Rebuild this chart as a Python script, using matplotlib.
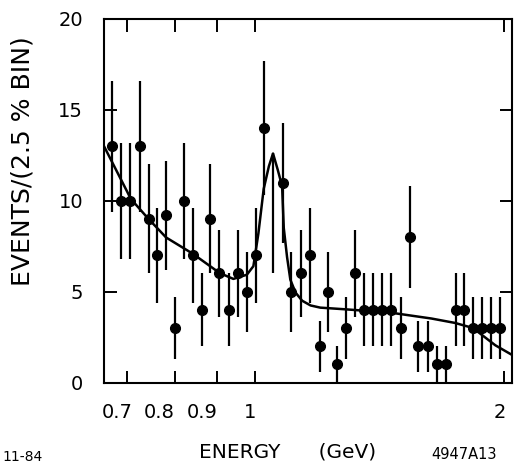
import matplotlib

matplotlib.use("Agg")
import matplotlib.pyplot as plt
from matplotlib.ticker import NullLocator
from matplotlib.transforms import ScaledTranslation

# --- measured spectrum (2.5 % bins) ---
energy = [0.672, 0.689, 0.707, 0.726, 0.744, 0.762, 0.781, 0.800, 0.821, 0.841,
          0.864, 0.883, 0.906, 0.931, 0.954, 0.978, 1.003, 1.027, 1.082, 1.107,
          1.136, 1.167, 1.198, 1.226, 1.257, 1.290, 1.321, 1.355, 1.391, 1.427,
          1.462, 1.502, 1.539, 1.577, 1.619, 1.659, 1.702, 1.750, 1.790, 1.836,
          1.881, 1.931, 1.980]
events = [13, 10, 10, 13, 9, 7, 9.2, 3, 10, 7,
          4, 9, 6, 4, 6, 5, 7, 14, 11, 5,
          6, 7, 2, 5, 1, 3, 6, 4, 4, 4,
          4, 3, 8, 2, 2, 1, 1, 4, 4, 3,
          3, 3, 3]
errors = [3.6, 3.2, 3.2, 3.6, 3.0, 2.6, 3.0, 1.7, 3.2, 2.6,
          2.0, 3.0, 2.4, 2.0, 2.4, 2.2, 2.6, 3.7, 3.3, 2.2,
          2.4, 2.6, 1.4, 2.2, 1.0, 1.7, 2.4, 2.0, 2.0, 2.0,
          2.0, 1.7, 2.8, 1.4, 1.4, 1.0, 1.0, 2.0, 2.0, 1.7,
          1.7, 1.7, 1.7]

# bin under the peak: error bar only, marker lost in the print
peak_energy = [1.053]
peak_events = [9.3]
peak_errors = [3.3]

# --- fitted curve ---
fit_energy = [0.657, 0.690, 0.708, 0.742, 0.781, 0.841, 0.907, 0.942, 0.978,
              0.996, 1.010, 1.025, 1.040, 1.052, 1.066, 1.079, 1.084, 1.094,
              1.104, 1.120, 1.141, 1.168, 1.200, 1.294, 1.462, 1.636, 1.746,
              1.836, 1.954, 2.047]
fit_events = [13.0, 11.1, 10.1, 9.05, 7.98, 7.09, 6.02, 5.7, 5.93,
              6.4, 8.2, 10.65, 11.9, 12.6, 11.7, 10.8, 8.5, 6.9,
              5.66, 4.95, 4.5, 4.24, 4.12, 4.02, 3.84, 3.52, 3.28,
              3.0, 2.05, 1.52]

xtick_vals = [0.7, 0.8, 0.9, 1.0, 2.0]
xtick_text = ["0.7", "0.8", "0.9", "1", "2"]
ytick_vals = [0, 5, 10, 15, 20]


def main():
    fig = plt.figure(figsize=(5.16, 4.69), dpi=100)
    ax = fig.add_axes([0.2016, 0.1844, 0.7906, 0.7751])

    ax.plot(fit_energy, fit_events, color="black", lw=1.8, zorder=2)
    ax.errorbar(energy, events, yerr=errors, fmt="o", color="black",
                ms=7, elinewidth=1.6, capsize=0, zorder=3)
    ax.errorbar(peak_energy, peak_events, yerr=peak_errors, fmt="none",
                ecolor="black", elinewidth=1.6, capsize=0, zorder=3)

    ax.set_xscale("log")
    ax.set_xlim(0.657, 2.047)
    ax.set_ylim(0, 20)
    ax.set_xticks(xtick_vals)
    ax.set_xticklabels(xtick_text)
    ax.xaxis.set_minor_locator(NullLocator())
    ax.set_yticks(ytick_vals)

    ax.tick_params(direction="in", length=9, width=1.4, labelsize=14,
                   top=True, right=True, pad=15)
    for s in ax.spines.values():
        s.set_linewidth(1.5)

    # hand-lettered labels sit a little left of their ticks
    shifts = [-0.10, -0.16, -0.15, -0.05, -0.04]
    for lab, dx in zip(ax.get_xticklabels(), shifts):
        lab.set_transform(lab.get_transform()
                          + ScaledTranslation(dx, 0, fig.dpi_scale_trans))

    ax.set_xlabel("ENERGY      (GeV)", fontsize=14.5)
    ax.xaxis.set_label_coords(0.45, -0.165)
    ax.set_ylabel("EVENTS/(2.5 % BIN)", fontsize=18)
    ax.yaxis.set_label_coords(-0.17, 0.61)

    fig.text(0.005, 0.018, "11-84", fontsize=10)
    fig.text(0.835, 0.022, "4947A13", fontsize=10.5)

    fig.savefig("out.png", dpi=100)


if __name__ == "__main__":
    main()
